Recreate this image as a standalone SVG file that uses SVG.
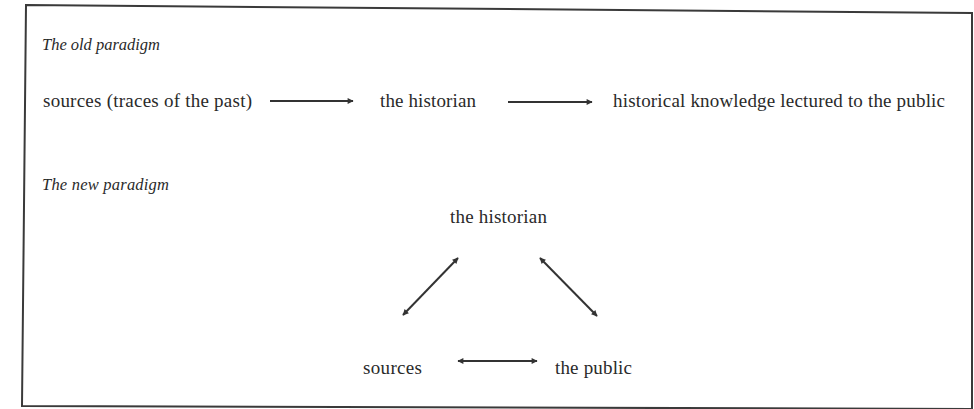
<svg xmlns="http://www.w3.org/2000/svg" width="974" height="409" viewBox="0 0 974 409">
<style>
.lbl{font-family:"Liberation Serif","Times New Roman",serif;font-size:19px;fill:#2a2a2a}
.hd{font-family:"Liberation Serif","Times New Roman",serif;font-size:16.5px;font-style:italic;fill:#2a2a2a}
.conn{stroke:#333;stroke-width:2;fill:none}
</style>
<defs>
<marker id="ah" viewBox="0 0 10 10" refX="9" refY="5" markerWidth="8" markerHeight="6" markerUnits="userSpaceOnUse" orient="auto-start-reverse">
<path d="M0,0 L10,5 L0,10 z" fill="#333"/>
</marker>
</defs>
<rect width="974" height="409" fill="#fff"/>
<polygon points="26,5 972,13 972,409 22,406" fill="none" stroke="#3a3a3a" stroke-width="2"/>
<text class="hd" x="42" y="50" textLength="118">The old paradigm</text>
<text class="hd" x="42" y="190" textLength="127">The new paradigm</text>
<g id="old-sources"><text class="lbl" x="43" y="107" textLength="209">sources (traces of the past)</text></g>
<g id="old-historian"><text class="lbl" x="380" y="107" textLength="96">the historian</text></g>
<g id="old-knowledge"><text class="lbl" x="613" y="107" textLength="332">historical knowledge lectured to the public</text></g>
<g id="new-historian"><text class="lbl" x="450" y="223" textLength="97">the historian</text></g>
<g id="new-sources"><text class="lbl" x="363" y="374" textLength="59">sources</text></g>
<g id="new-public"><text class="lbl" x="555" y="374" textLength="77">the public</text></g>
<g id="connectors">
<line class="conn" x1="270" y1="101" x2="353" y2="101" marker-end="url(#ah)"/>
<line class="conn" x1="508" y1="102" x2="592" y2="102" marker-end="url(#ah)"/>
<line class="conn" x1="403" y1="315" x2="458" y2="258" marker-start="url(#ah)" marker-end="url(#ah)"/>
<line class="conn" x1="540" y1="258" x2="597" y2="316" marker-start="url(#ah)" marker-end="url(#ah)"/>
<line class="conn" x1="458" y1="361" x2="537" y2="361" marker-start="url(#ah)" marker-end="url(#ah)"/>
</g>
</svg>
